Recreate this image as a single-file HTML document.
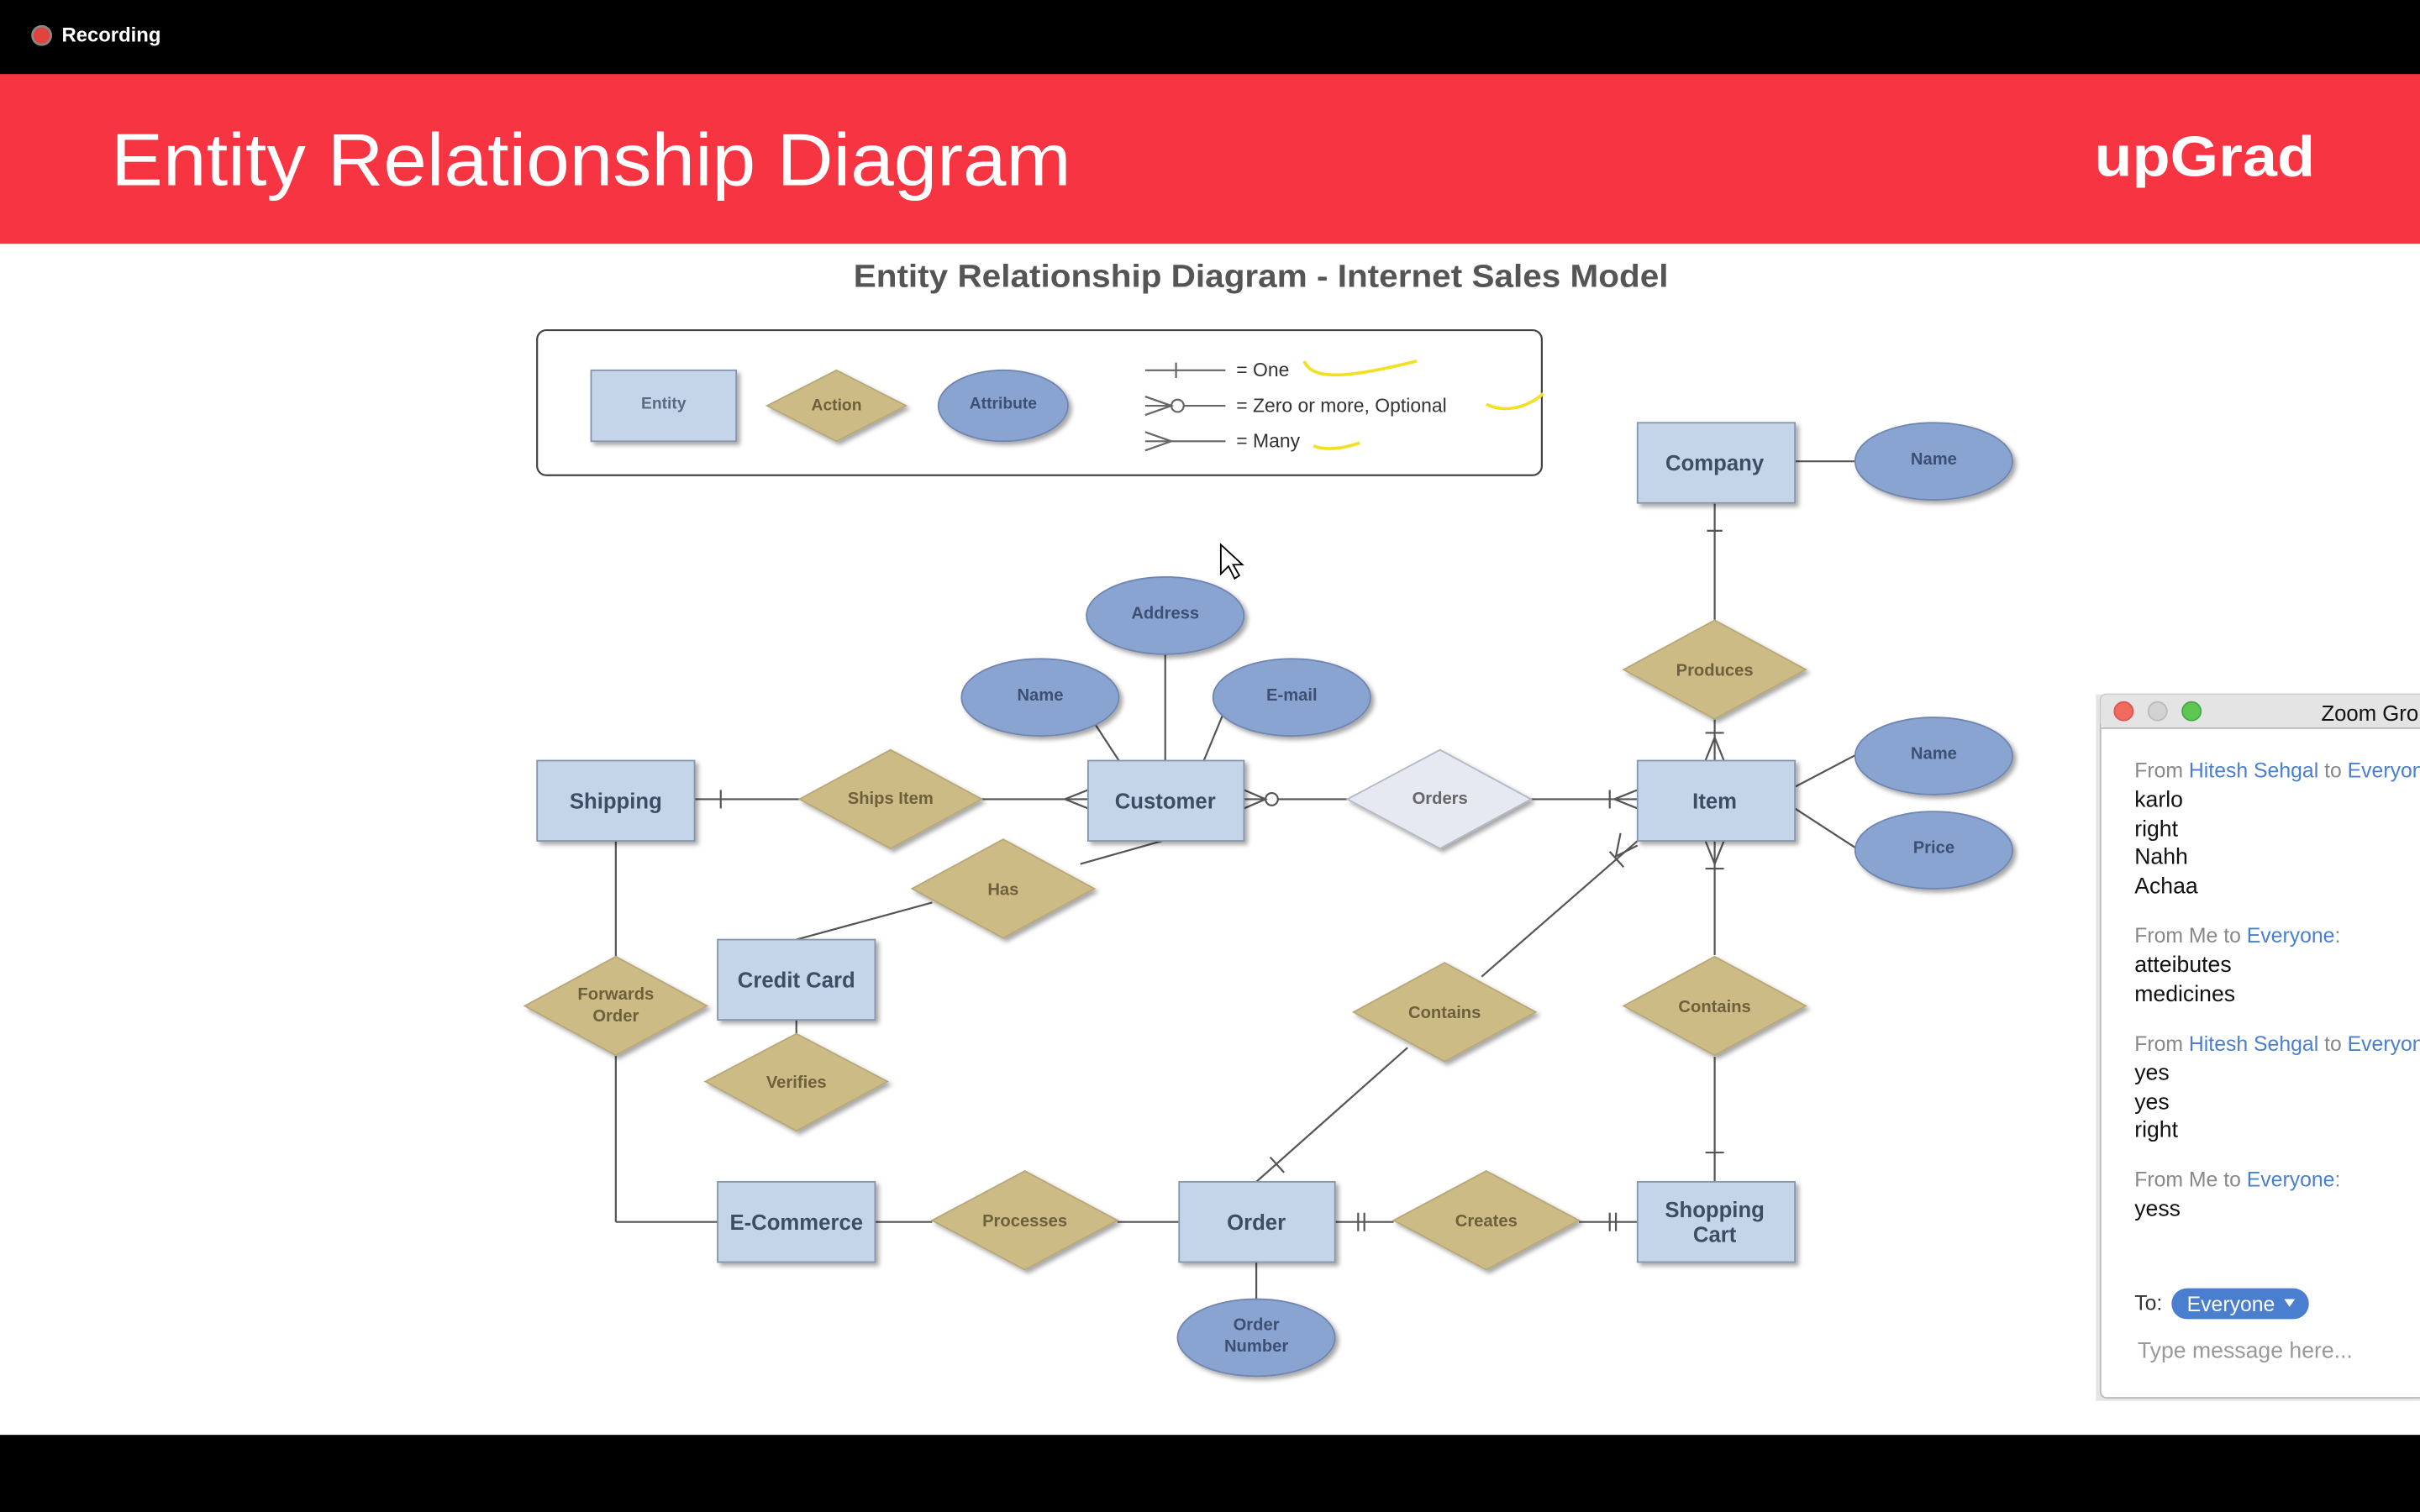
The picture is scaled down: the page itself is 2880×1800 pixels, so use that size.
<!DOCTYPE html>
<html><head><meta charset="utf-8"><style>
html,body{margin:0;padding:0;background:#000;overflow:hidden}
svg{display:block}
text{font-family:"Liberation Sans",Arial,sans-serif}
</style></head><body>
<svg width="2880" height="1800" viewBox="0 0 1568 980" preserveAspectRatio="none" xmlns="http://www.w3.org/2000/svg">
<defs>
<filter id="sh" x="-10%" y="-10%" width="130%" height="140%"><feDropShadow dx="2" dy="2" stdDeviation="1.5" flood-color="#000" flood-opacity="0.35"/></filter>
</defs>
<rect x="0" y="0" width="1568" height="980" fill="#000"/>
<circle cx="27" cy="23" r="6" fill="#e0443c" stroke="#888" stroke-width="1.5"/>
<text x="40" y="27" font-size="13" font-weight="bold" fill="#fff">Recording</text>
<rect x="0" y="48" width="1568" height="110" fill="#f63442"/>
<text x="72" y="120" font-size="48" fill="#fff" textLength="622" lengthAdjust="spacingAndGlyphs">Entity Relationship Diagram</text>
<text x="1357" y="114" font-size="37" font-weight="bold" fill="#fff" textLength="143" lengthAdjust="spacingAndGlyphs">upGrad</text>
<rect x="0" y="158" width="1568" height="772" fill="#fff"/>
<text x="553" y="186" font-size="20.5" font-weight="bold" fill="#555" textLength="528" lengthAdjust="spacingAndGlyphs">Entity Relationship Diagram - Internet Sales Model</text>

<!-- legend -->
<rect x="348" y="214" width="651" height="94" rx="6" fill="#fff" stroke="#444" stroke-width="1.2"/>
<rect x="383" y="240" width="94" height="46" fill="#c4d5ea" stroke="#8797ab" filter="url(#sh)"/>
<text x="430" y="265" font-size="10.5" font-weight="bold" fill="#5a6a82" text-anchor="middle">Entity</text>
<polygon points="497,263 542,240 587,263 542,286" fill="#cdbb86" stroke="#b8a877" filter="url(#sh)"/>
<text x="542" y="266" font-size="10.5" font-weight="bold" fill="#6e603c" text-anchor="middle">Action</text>
<ellipse cx="650" cy="263" rx="42" ry="23" fill="#8aa4d2" stroke="#6f86b0" filter="url(#sh)"/>
<text x="650" y="265" font-size="10.5" font-weight="bold" fill="#3d4f73" text-anchor="middle">Attribute</text>
<g stroke="#666" stroke-width="1.2" fill="none">
<line x1="742" y1="240" x2="794" y2="240"/><line x1="762" y1="235" x2="762" y2="245"/>
<line x1="742" y1="263" x2="794" y2="263"/><circle cx="763" cy="263" r="4" fill="#fff"/><path d="M742,257 L759,263 L742,269"/>
<line x1="742" y1="286" x2="794" y2="286"/><path d="M742,280 L759,286 L742,292"/>
</g>
<text x="801" y="244" font-size="12.5" fill="#333">= One</text>
<text x="801" y="267" font-size="12.5" fill="#333">= Zero or more, Optional</text>
<text x="801" y="290" font-size="12.5" fill="#333">= Many</text>
<g stroke="#f3e020" stroke-width="2" fill="none">
<path d="M845,234 C850,246 870,246 918,234"/>
<path d="M963,262 C975,268 990,264 1000,255"/>
<path d="M851,289 C858,292 870,291 881,287"/>
</g>

<!-- connectors -->
<g stroke="#555" stroke-width="1.2" fill="none">
<line x1="450" y1="518" x2="518" y2="518"/><line x1="467" y1="512" x2="467" y2="524"/>
<line x1="636" y1="518" x2="705" y2="518"/><path d="M705,512 L690,518 L705,524"/>
<line x1="806" y1="518" x2="873" y2="518"/><circle cx="824" cy="518" r="4" fill="#fff"/><path d="M806,512 L820,518 L806,524"/>
<line x1="992" y1="518" x2="1061" y2="518"/><path d="M1061,512 L1046,518 L1061,524"/><line x1="1043" y1="512" x2="1043" y2="524"/>
<line x1="1163" y1="299" x2="1203" y2="299"/>
<line x1="1111" y1="326" x2="1111" y2="402"/><line x1="1106" y1="344" x2="1116" y2="344"/>
<line x1="1111" y1="466" x2="1111" y2="493"/><path d="M1105,493 L1111,478 L1117,493"/><line x1="1105" y1="475" x2="1117" y2="475"/>
<line x1="1163" y1="510" x2="1203" y2="489"/><line x1="1163" y1="524" x2="1203" y2="550"/>
<line x1="725" y1="493" x2="708" y2="467"/><line x1="755" y1="493" x2="755" y2="424"/><line x1="780" y1="493" x2="792" y2="464"/>
<line x1="1111" y1="545" x2="1111" y2="619"/><path d="M1105,545 L1111,560 L1117,545"/><line x1="1105" y1="563" x2="1117" y2="563"/>
<line x1="1111" y1="685" x2="1111" y2="766"/><line x1="1105" y1="747" x2="1117" y2="747"/>
<line x1="753" y1="545" x2="700" y2="560"/><line x1="604" y1="585" x2="516" y2="609"/>
<line x1="399" y1="545" x2="399" y2="620"/><line x1="399" y1="684" x2="399" y2="792"/><line x1="399" y1="792" x2="465" y2="792"/>
<line x1="516" y1="661" x2="516" y2="670"/>
<line x1="567" y1="792" x2="604" y2="792"/><line x1="724" y1="792" x2="764" y2="792"/>
<line x1="865" y1="792" x2="903" y2="792"/><line x1="880" y1="786" x2="880" y2="798"/><line x1="884" y1="786" x2="884" y2="798"/>
<line x1="1023" y1="792" x2="1061" y2="792"/><line x1="1043" y1="786" x2="1043" y2="798"/><line x1="1047" y1="786" x2="1047" y2="798"/>
<line x1="814" y1="818" x2="814" y2="843"/>
<line x1="814" y1="766" x2="912" y2="679"/><line x1="823" y1="750" x2="832" y2="760"/>
<line x1="960" y1="633" x2="1061" y2="545"/><line x1="1043" y1="552" x2="1052" y2="562"/><path d="M1050,540 L1047,555 L1061,548"/>
</g>

<!-- entities -->
<g fill="#c4d5ea" stroke="#8797ab" filter="url(#sh)">
<rect x="348" y="493" width="102" height="52"/>
<rect x="705" y="493" width="101" height="52"/>
<rect x="1061" y="493" width="102" height="52"/>
<rect x="1061" y="274" width="102" height="52"/>
<rect x="465" y="609" width="102" height="52"/>
<rect x="465" y="766" width="102" height="52"/>
<rect x="764" y="766" width="101" height="52"/>
<rect x="1061" y="766" width="102" height="52"/>
</g>
<g font-size="14" font-weight="bold" fill="#3e4d63" text-anchor="middle">
<text x="399" y="524">Shipping</text>
<text x="755" y="524">Customer</text>
<text x="1111" y="524">Item</text>
<text x="1111" y="305">Company</text>
<text x="516" y="640">Credit Card</text>
<text x="516" y="797">E-Commerce</text>
<text x="814" y="797">Order</text>
<text x="1111" y="789">Shopping</text>
<text x="1111" y="805">Cart</text>
</g>

<!-- diamonds -->
<g fill="#cdbb86" stroke="#b8a877" filter="url(#sh)">
<polygon points="518,518 577,486 636,518 577,550"/>
<polygon points="591,576 650,544 709,576 650,608"/>
<polygon points="1052,434 1111,402 1170,434 1111,466"/>
<polygon points="340,652 399,620 458,652 399,684"/>
<polygon points="457,701 516,670 575,701 516,733"/>
<polygon points="877,656 936,624 995,656 936,688"/>
<polygon points="1052,652 1111,620 1170,652 1111,684"/>
<polygon points="604,791 664,759 724,791 664,823"/>
<polygon points="903,791 963,759 1023,791 963,823"/>
</g>
<polygon points="873,518 933,486 992,518 933,550" fill="#e6e8f2" stroke="#b5b8c5" filter="url(#sh)"/>
<g font-size="11" font-weight="bold" fill="#6e603c" text-anchor="middle">
<text x="577" y="521">Ships Item</text>
<text x="650" y="580">Has</text>
<text x="1111" y="438">Produces</text>
<text x="399" y="648">Forwards</text><text x="399" y="662">Order</text>
<text x="516" y="705">Verifies</text>
<text x="936" y="660">Contains</text>
<text x="1111" y="656">Contains</text>
<text x="664" y="795">Processes</text>
<text x="963" y="795">Creates</text>
<text x="933" y="521" fill="#666">Orders</text>
</g>

<!-- attributes -->
<g fill="#8aa4d2" stroke="#6f86b0" filter="url(#sh)">
<ellipse cx="755" cy="399" rx="51" ry="25"/>
<ellipse cx="674" cy="452" rx="51" ry="25"/>
<ellipse cx="837" cy="452" rx="51" ry="25"/>
<ellipse cx="1253" cy="299" rx="51" ry="25"/>
<ellipse cx="1253" cy="490" rx="51" ry="25"/>
<ellipse cx="1253" cy="551" rx="51" ry="25"/>
<ellipse cx="814" cy="867" rx="51" ry="25"/>
</g>
<g font-size="11" font-weight="bold" fill="#3d4f73" text-anchor="middle">
<text x="755" y="401">Address</text>
<text x="674" y="454">Name</text>
<text x="837" y="454">E-mail</text>
<text x="1253" y="301">Name</text>
<text x="1253" y="492">Name</text>
<text x="1253" y="553">Price</text>
<text x="814" y="862">Order</text><text x="814" y="876">Number</text>
</g>

<!-- cursor -->
<path d="M791,353 L791,372 L796,367 L800,375 L803,373 L799,366 L805,366 Z" fill="#fff" stroke="#000" stroke-width="1"/>

<!-- chat panel -->
<rect x="1358" y="450" width="212" height="458" fill="#ccc" opacity="0.5"/>
<rect x="1361" y="450" width="210" height="456" rx="4" fill="#fff" stroke="#bbb"/>
<rect x="1361" y="450" width="210" height="22" rx="4" fill="#e4e4e4"/>
<line x1="1361" y1="472" x2="1568" y2="472" stroke="#bbb"/>
<circle cx="1376" cy="461" r="6" fill="#ef6b5e" stroke="#d55"/>
<circle cx="1398" cy="461" r="6" fill="#d2d2d2" stroke="#bbb"/>
<circle cx="1420" cy="461" r="6" fill="#5ec653" stroke="#4a4"/>
<text x="1504" y="467" font-size="14" fill="#111">Zoom Gro</text>
<g font-size="13.5">
<text x="1383" y="504" fill="#888">From <tspan fill="#4a7fd0">Hitesh Sehgal</tspan> to <tspan fill="#4a7fd0">Everyone</tspan></text>
<text x="1383" y="523" fill="#111" font-size="14.5">karlo</text>
<text x="1383" y="542" fill="#111" font-size="14.5">right</text>
<text x="1383" y="560" fill="#111" font-size="14.5">Nahh</text>
<text x="1383" y="579" fill="#111" font-size="14.5">Achaa</text>
<text x="1383" y="611" fill="#888">From Me to <tspan fill="#4a7fd0">Everyone</tspan>:</text>
<text x="1383" y="630" fill="#111" font-size="14.5">atteibutes</text>
<text x="1383" y="649" fill="#111" font-size="14.5">medicines</text>
<text x="1383" y="681" fill="#888">From <tspan fill="#4a7fd0">Hitesh Sehgal</tspan> to <tspan fill="#4a7fd0">Everyone</tspan></text>
<text x="1383" y="700" fill="#111" font-size="14.5">yes</text>
<text x="1383" y="719" fill="#111" font-size="14.5">yes</text>
<text x="1383" y="737" fill="#111" font-size="14.5">right</text>
<text x="1383" y="769" fill="#888">From Me to <tspan fill="#4a7fd0">Everyone</tspan>:</text>
<text x="1383" y="788" fill="#111" font-size="14.5">yess</text>
<text x="1383" y="849" fill="#333">To:</text>
<rect x="1407" y="835" width="89" height="20" rx="10" fill="#4a7fd0"/>
<text x="1417" y="850" fill="#fff">Everyone</text>
<polygon points="1480,842 1487,842 1483.5,847" fill="#fff"/>
<text x="1385" y="880" fill="#999" font-size="14.5">Type message here...</text>
</g>
</svg>
</body></html>
